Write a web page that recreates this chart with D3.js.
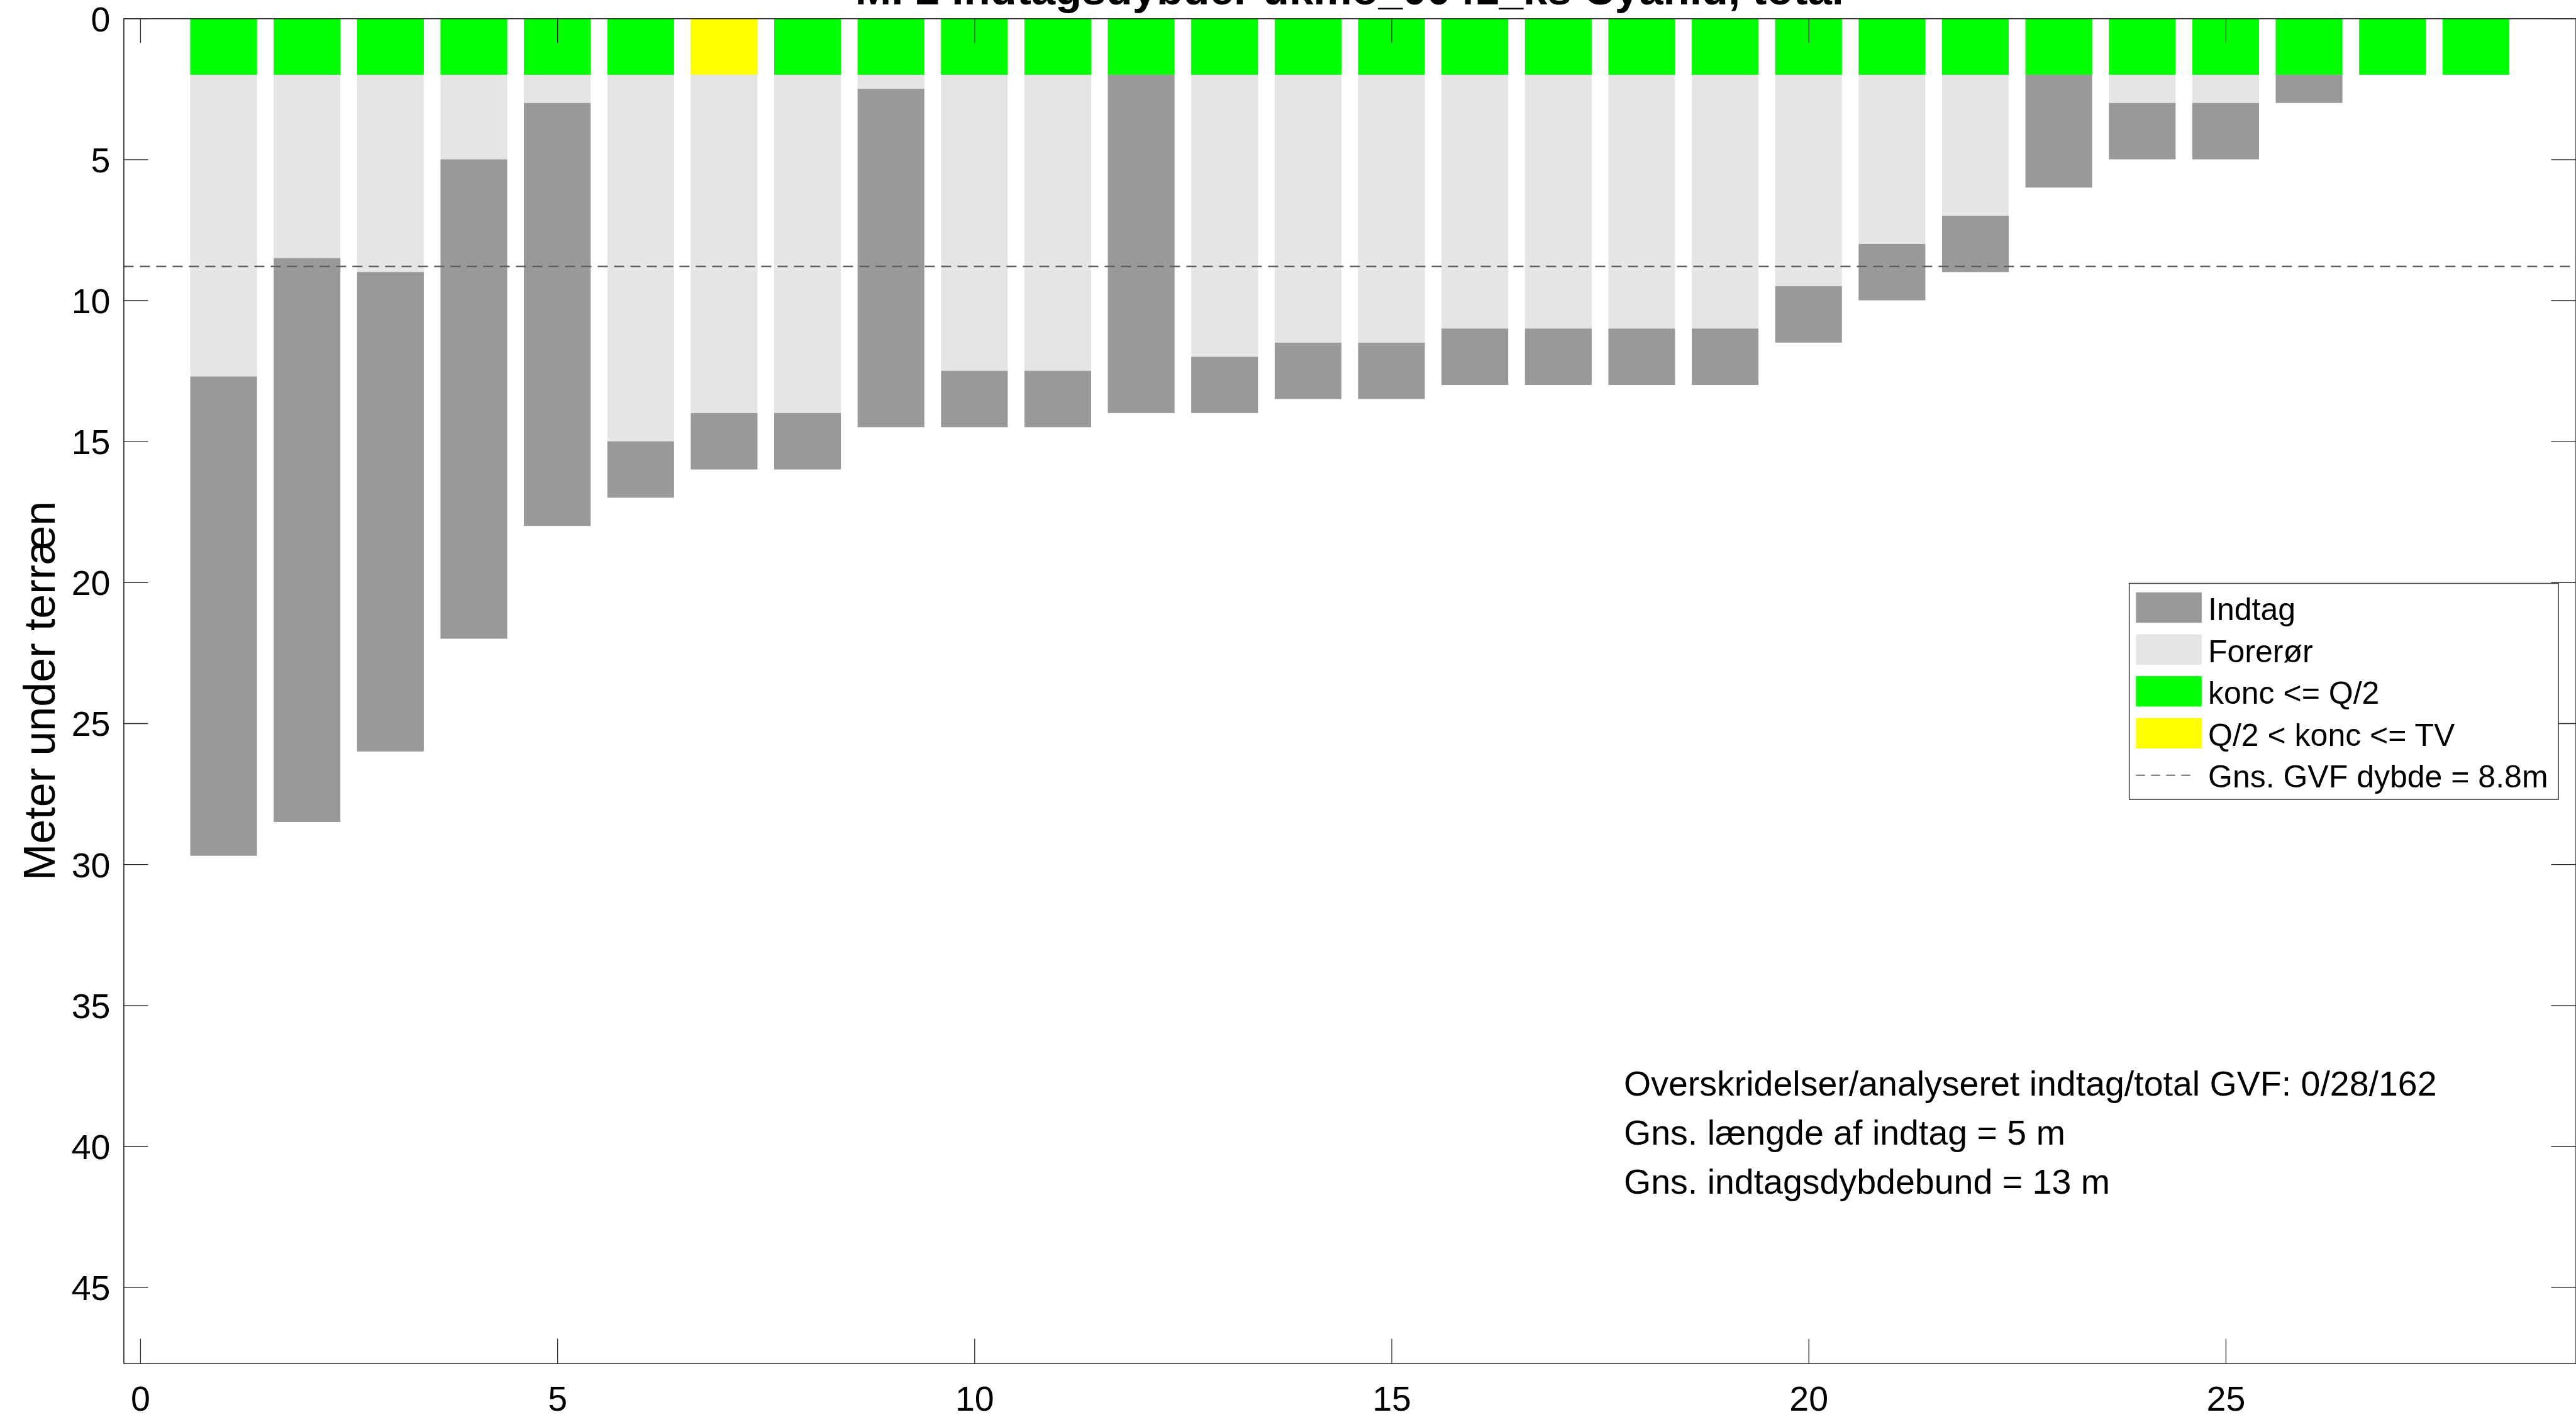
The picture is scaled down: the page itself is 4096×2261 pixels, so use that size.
<!DOCTYPE html>
<html>
<head>
<meta charset="utf-8">
<script src="https://cdn.jsdelivr.net/npm/d3@7"></script>
<style>
  html, body { margin: 0; padding: 0; background: #fff; overflow: hidden; }
  svg { display: block; font-family: "Liberation Sans", Arial, Helvetica, sans-serif; }
</style>
</head>
<body>
<svg id="chart" width="4096" height="2261"></svg>
<script>
// Well index along the x axis (one column per analysed screen)
const wellIndex = [1, 2, 3, 4, 5, 6, 7, 8, 9, 10, 11, 12, 13, 14, 15, 16, 17, 18, 19, 20, 21, 22, 23, 24, 25, 26, 27, 28];
// Top of screen (bottom of casing), metres below ground
const screenTop = [12.7, 8.5, 9, 5, 3, 15, 14, 14, 2.5, 12.5, 12.5, 2, 12, 11.5, 11.5, 11, 11, 11, 11, 9.5, 8, 7, 2, 3, 3, 2, null, null];
// Bottom of screen, metres below ground
const screenBottom = [29.7, 28.5, 26, 22, 18, 17, 16, 16, 14.5, 14.5, 14.5, 14, 14, 13.5, 13.5, 13, 13, 13, 13, 11.5, 10, 9, 6, 5, 5, 3, null, null];
// Concentration class per screen: "low" = konc <= Q/2, "mid" = Q/2 < konc <= TV
const concClass = ["low", "low", "low", "low", "low", "low", "mid", "low", "low", "low", "low", "low", "low", "low",
                   "low", "low", "low", "low", "low", "low", "low", "low", "low", "low", "low", "low", "low", "low"];
// Depth of the concentration marker block at the top of each column (m)
const concMarkerDepth = 2;
// Mean depth of the groundwater body (m)
const meanGvfDepth = 8.8;

const yTicks = [0, 5, 10, 15, 20, 25, 30, 35, 40, 45];
const xTicks = [0, 5, 10, 15, 20, 25];
const xDomain = [-0.2, 29.2];
const yDomain = [0, 47.7];

const titleText = "M. 2 Indtagsdybder ukmo_0041_ks Cyanid, total";
const yLabelText = "Meter under terræn";
const legendLabels = ["Indtag", "Forerør", "konc <= Q/2", "Q/2 < konc <= TV", "Gns. GVF dybde = 8.8m"];
const noteLines = [
  "Overskridelser/analyseret indtag/total GVF: 0/28/162",
  "Gns. længde af indtag = 5 m",
  "Gns. indtagsdybdebund = 13 m"
];

// ---- styling ----
const colScreen = "#999999";
const colCasing = "#e5e5e5";
const concColor = { low: "#00ff00", mid: "#ffff00" };
const axisColor = "#262626";
const font = '"Liberation Sans", Arial, Helvetica, sans-serif';

const svg = d3.select("#chart");
const W = 4096, H = 2261;

const plot = { left: 196.4, right: 4095.5, top: 29.2, bottom: 2167.7 };
const x = d3.scaleLinear().domain(xDomain).range([plot.left, 4096]);
const y = d3.scaleLinear().domain(yDomain).range([plot.top, plot.bottom]);
const barW = x(0.8) - x(0);

const rows = wellIndex.map((w, i) => ({
  w, top: screenTop[i], bottom: screenBottom[i], conc: concClass[i]
}));

const g = svg.append("g");

// casing (forerør): from ground to top of screen
g.selectAll("rect.casing")
  .data(rows.filter(d => d.top !== null))
  .join("rect")
  .attr("class", "casing")
  .attr("x", d => x(d.w) - barW / 2)
  .attr("width", barW)
  .attr("y", y(0))
  .attr("height", d => y(d.top) - y(0))
  .attr("fill", colCasing);

// screen (indtag)
g.selectAll("rect.screen")
  .data(rows.filter(d => d.top !== null))
  .join("rect")
  .attr("class", "screen")
  .attr("x", d => x(d.w) - barW / 2)
  .attr("width", barW)
  .attr("y", d => y(d.top))
  .attr("height", d => y(d.bottom) - y(d.top))
  .attr("fill", colScreen);

// concentration marker block
g.selectAll("rect.conc")
  .data(rows)
  .join("rect")
  .attr("class", "conc")
  .attr("x", d => x(d.w) - barW / 2)
  .attr("width", barW)
  .attr("y", y(0))
  .attr("height", y(concMarkerDepth) - y(0))
  .attr("fill", d => concColor[d.conc]);

// mean groundwater body depth
g.append("line")
  .attr("x1", plot.left).attr("x2", plot.right)
  .attr("y1", y(meanGvfDepth)).attr("y2", y(meanGvfDepth))
  .attr("stroke", "#5f5f5f")
  .attr("stroke-width", 2.6)
  .attr("stroke-dasharray", "16,10");

// ---- axes (box with inward ticks) ----
const tickLen = 39;
function styleAxis(sel) {
  sel.selectAll(".domain").attr("stroke", axisColor).attr("stroke-width", 1.6);
  sel.selectAll(".tick line").attr("stroke", axisColor).attr("stroke-width", 1.3);
  sel.selectAll(".tick text").attr("fill", "#000").attr("font-family", font).attr("font-size", 55.5);
}

const axLeft = svg.append("g")
  .attr("transform", `translate(${plot.left},0)`)
  .call(d3.axisLeft(y).tickValues(yTicks).tickSizeInner(-tickLen).tickSizeOuter(0).tickPadding(21));
styleAxis(axLeft);
axLeft.selectAll(".tick text").attr("dy", "0.36em");

const axBottom = svg.append("g")
  .attr("transform", `translate(0,${plot.bottom})`)
  .call(d3.axisBottom(x).tickValues(xTicks).tickSizeInner(-tickLen).tickSizeOuter(0).tickPadding(36));
styleAxis(axBottom);

const axTop = svg.append("g")
  .attr("transform", `translate(0,${plot.top})`)
  .call(d3.axisTop(x).tickValues(xTicks).tickSizeInner(-tickLen).tickSizeOuter(0).tickFormat(""));
styleAxis(axTop);

const axRight = svg.append("g")
  .attr("transform", `translate(${plot.right},0)`)
  .call(d3.axisRight(y).tickValues(yTicks).tickSizeInner(-tickLen).tickSizeOuter(0).tickFormat(""));
styleAxis(axRight);

// ---- title and axis label ----
svg.append("text")
  .attr("x", (plot.left + plot.right) / 2)
  .attr("y", 7)
  .attr("text-anchor", "middle")
  .attr("font-family", font)
  .attr("font-weight", "bold")
  .attr("font-size", 69)
  .attr("fill", "#000")
  .text(titleText);

svg.append("text")
  .attr("transform", `translate(87,${(plot.top + plot.bottom) / 2}) rotate(-90)`)
  .attr("text-anchor", "middle")
  .attr("font-family", font)
  .attr("font-size", 70)
  .attr("fill", "#000")
  .text(yLabelText);

// ---- legend ----
const lg = { x: 3385.6, y: 927.5, w: 682.4, h: 343.5 };
const legend = svg.append("g");
legend.append("rect")
  .attr("x", lg.x).attr("y", lg.y).attr("width", lg.w).attr("height", lg.h)
  .attr("fill", "#fff").attr("stroke", axisColor).attr("stroke-width", 1.4);

const swatchX = 3396.3, swatchW = 104.5, swatchH = 48.3, rowY0 = 941.9, rowStep = 66.6;
const swatchFill = [colScreen, colCasing, concColor.low, concColor.mid];
legendLabels.forEach((label, i) => {
  const top = rowY0 + i * rowStep;
  const cy = top + swatchH / 2;
  if (i < 4) {
    legend.append("rect")
      .attr("x", swatchX).attr("y", top).attr("width", swatchW).attr("height", swatchH)
      .attr("fill", swatchFill[i]);
  } else {
    legend.append("line")
      .attr("x1", swatchX).attr("x2", swatchX + 96)
      .attr("y1", cy).attr("y2", cy)
      .attr("stroke", "#333").attr("stroke-width", 1.5)
      .attr("stroke-dasharray", "14.5,9.5");
  }
  legend.append("text")
    .attr("x", 3511).attr("y", cy + 20)
    .attr("font-family", font).attr("font-size", 50).attr("fill", "#000")
    .text(label);
});

// ---- summary notes ----
const noteY = [1741.5, 1819.8, 1898];
svg.append("g").selectAll("text")
  .data(noteLines)
  .join("text")
  .attr("x", 2582)
  .attr("y", (d, i) => noteY[i])
  .attr("font-family", font)
  .attr("font-size", 55.5)
  .attr("fill", "#000")
  .text(d => d);
</script>
</body>
</html>
